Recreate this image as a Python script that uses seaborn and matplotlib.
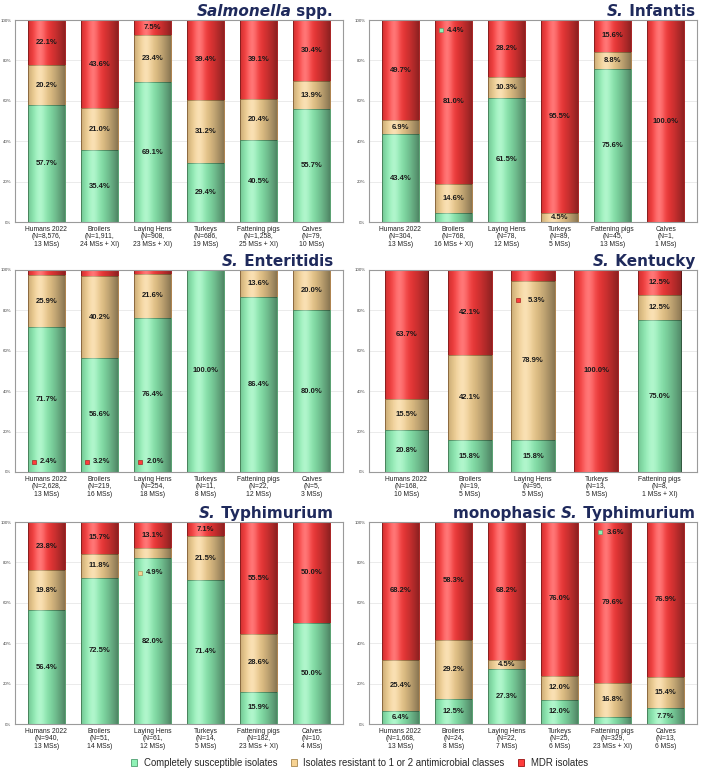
import numpy as np
import matplotlib
matplotlib.use("Agg")
import matplotlib.pyplot as plt
import seaborn as sns
from matplotlib.patches import Patch
from matplotlib.offsetbox import TextArea, HPacker, AnchoredOffsetbox

# ---------------- data (percent of isolates) ----------------
spp_cats = ["Humans 2022\n(N=8,576,\n13 MSs)", "Broilers\n(N=1,911,\n24 MSs + XI)",
            "Laying Hens\n(N=908,\n23 MSs + XI)", "Turkeys\n(N=686,\n19 MSs)",
            "Fattening pigs\n(N=1,258,\n25 MSs + XI)", "Calves\n(N=79,\n10 MSs)"]
spp_green = [57.7, 35.4, 69.1, 29.4, 40.5, 55.7]
spp_orange = [20.2, 21.0, 23.4, 31.2, 20.4, 13.9]
spp_red = [22.1, 43.6, 7.5, 39.4, 39.1, 30.4]

inf_cats = ["Humans 2022\n(N=304,\n13 MSs)", "Broilers\n(N=768,\n16 MSs + XI)",
            "Laying Hens\n(N=78,\n12 MSs)", "Turkeys\n(N=89,\n5 MSs)",
            "Fattening pigs\n(N=45,\n13 MSs)", "Calves\n(N=1,\n1 MSs)"]
inf_green = [43.4, 4.4, 61.5, 0.0, 75.6, 0.0]
inf_orange = [6.9, 14.6, 10.3, 4.5, 8.8, 0.0]
inf_red = [49.7, 81.0, 28.2, 95.5, 15.6, 100.0]

ent_cats = ["Humans 2022\n(N=2,628,\n13 MSs)", "Broilers\n(N=219,\n16 MSs)",
            "Laying Hens\n(N=254,\n18 MSs)", "Turkeys\n(N=11,\n8 MSs)",
            "Fattening pigs\n(N=22,\n12 MSs)", "Calves\n(N=5,\n3 MSs)"]
ent_green = [71.7, 56.6, 76.4, 100.0, 86.4, 80.0]
ent_orange = [25.9, 40.2, 21.6, 0.0, 13.6, 20.0]
ent_red = [2.4, 3.2, 2.0, 0.0, 0.0, 0.0]

ken_cats = ["Humans 2022\n(N=168,\n10 MSs)", "Broilers\n(N=19,\n5 MSs)",
            "Laying Hens\n(N=95,\n5 MSs)", "Turkeys\n(N=13,\n5 MSs)",
            "Fattening pigs\n(N=8,\n1 MSs + XI)"]
ken_green = [20.8, 15.8, 15.8, 0.0, 75.0]
ken_orange = [15.5, 42.1, 78.9, 0.0, 12.5]
ken_red = [63.7, 42.1, 5.3, 100.0, 12.5]

typ_cats = ["Humans 2022\n(N=940,\n13 MSs)", "Broilers\n(N=51,\n14 MSs)",
            "Laying Hens\n(N=61,\n12 MSs)", "Turkeys\n(N=14,\n5 MSs)",
            "Fattening pigs\n(N=182,\n23 MSs + XI)", "Calves\n(N=10,\n4 MSs)"]
typ_green = [56.4, 72.5, 82.0, 71.4, 15.9, 50.0]
typ_orange = [19.8, 11.8, 4.9, 21.5, 28.6, 0.0]
typ_red = [23.8, 15.7, 13.1, 7.1, 55.5, 50.0]

mon_cats = ["Humans 2022\n(N=1,668,\n13 MSs)", "Broilers\n(N=24,\n8 MSs)",
            "Laying Hens\n(N=22,\n7 MSs)", "Turkeys\n(N=25,\n6 MSs)",
            "Fattening pigs\n(N=329,\n23 MSs + XI)", "Calves\n(N=13,\n6 MSs)"]
mon_green = [6.4, 12.5, 27.3, 12.0, 3.6, 7.7]
mon_orange = [25.4, 29.2, 4.5, 12.0, 16.8, 15.4]
mon_red = [68.2, 58.3, 68.2, 76.0, 79.6, 76.9]

# small segments labelled away from the segment: (bar index, class, label height)
inf_callouts = [(1, "green", 95)]
ent_callouts = [(0, "red", 5), (1, "red", 5), (2, "red", 5)]
ken_callouts = [(2, "red", 85)]
typ_callouts = [(2, "orange", 75)]
mon_callouts = [(4, "green", 95)]

legend_labels = ["Completely susceptible isolates",
                 "Isolates resistant to 1 or 2 antimicrobial classes",
                 "MDR isolates"]

# ---------------- styling ----------------
sns.set_style("white")
plt.rcParams["font.family"] = ["Liberation Sans", "DejaVu Sans"]

COLORS = {"green": "#8ff2b6", "orange": "#f7d393", "red": "#ff3c3c"}
EDGES = {"green": "#4f9e70", "orange": "#a8864e", "red": "#9a1010"}
NAVY = "#1f2a5c"
BAR_W = 0.69

panels = [
    ([("Salmonella", True), (" spp.", False)], spp_cats, spp_green, spp_orange, spp_red, []),
    ([("S.", True), (" Infantis", False)], inf_cats, inf_green, inf_orange, inf_red, inf_callouts),
    ([("S.", True), (" Enteritidis", False)], ent_cats, ent_green, ent_orange, ent_red, ent_callouts),
    ([("S.", True), (" Kentucky", False)], ken_cats, ken_green, ken_orange, ken_red, ken_callouts),
    ([("S.", True), (" Typhimurium", False)], typ_cats, typ_green, typ_orange, typ_red, typ_callouts),
    ([("monophasic ", False), ("S.", True), (" Typhimurium", False)], mon_cats, mon_green, mon_orange, mon_red, mon_callouts),
]

fig = plt.figure(figsize=(7.09, 7.72), dpi=100)
W, H = 709, 772
col_left = [15, 369]
row_top = [20, 270, 522]
ax_w, ax_h = 328, 202
title_inset = [10, 2]

# cylinder shading overlay
t = np.linspace(0, 1, 200)
d = t - 0.33
dark = np.where(d < 0, 0.20 * (d / 0.33) ** 2, 0.45 * (d / 0.67) ** 1.5)
light = 0.30 * np.exp(-(d / 0.16) ** 2)
dark_img = np.zeros((1, t.size, 4))
dark_img[..., 3] = dark
light_img = np.ones((1, t.size, 4))
light_img[..., 3] = light

for i, (title, cats, g, o, r, callouts) in enumerate(panels):
    col, row = i % 2, i // 2
    ax = fig.add_axes([col_left[col] / W, 1 - (row_top[row] + ax_h) / H, ax_w / W, ax_h / H])
    g = np.array(g)
    o = np.array(o)
    r = np.array(r)
    total = g + o + r
    n = len(cats)

    ax.yaxis.grid(True, color="#e8e8e8", lw=0.6, zorder=0)
    ax.set_axisbelow(True)

    # stacked bars painted back to front
    sns.barplot(x=cats, y=total, color=COLORS["red"], width=BAR_W, errorbar=None,
                saturation=1, edgecolor=EDGES["red"], linewidth=0.6, ax=ax, zorder=1)
    sns.barplot(x=cats, y=g + o, color=COLORS["orange"], width=BAR_W, errorbar=None,
                saturation=1, edgecolor=EDGES["orange"], linewidth=0.6, ax=ax, zorder=1.1)
    sns.barplot(x=cats, y=g, color=COLORS["green"], width=BAR_W, errorbar=None,
                saturation=1, edgecolor=EDGES["green"], linewidth=0.6, ax=ax, zorder=1.2)

    for k in range(n):
        ext = (k - BAR_W / 2, k + BAR_W / 2, 0, total[k])
        ax.imshow(light_img, extent=ext, aspect="auto", interpolation="bilinear", zorder=2)
        ax.imshow(dark_img, extent=ext, aspect="auto", interpolation="bilinear", zorder=2.1)

    call_set = {(c[0], c[1]) for c in callouts}
    segs = {"green": (np.zeros(n), g), "orange": (g, o), "red": (g + o, r)}
    for cls, (base, vals) in segs.items():
        for k in range(n):
            if vals[k] <= 0 or (k, cls) in call_set:
                continue
            ax.text(k, base[k] + vals[k] / 2, f"{vals[k]:.1f}%", ha="center", va="center",
                    fontsize=5.5, fontweight="bold", color="#1a1a1a", zorder=4)
    for k, cls, ypos in callouts:
        val = segs[cls][1][k]
        ax.plot(k - 0.23, ypos, marker="s", ms=3.3, mfc=COLORS[cls], mec=EDGES[cls], mew=0.4, zorder=4)
        ax.text(k + 0.05, ypos, f"{val:.1f}%", ha="center", va="center",
                fontsize=5.5, fontweight="bold", color="#1a1a1a", zorder=4)

    ax.set_xlim(-0.59, n - 0.41)
    ax.set_ylim(0, 100)
    ax.set_yticks(range(0, 101, 20))
    ax.set_yticklabels([f"{v}%" for v in range(0, 101, 20)])
    ax.tick_params(axis="y", labelsize=3.2, labelcolor="#444444", length=1.5, width=0.4, pad=1)
    ax.tick_params(axis="x", labelsize=4.9, labelcolor="#222222", length=0, pad=3)
    for lab in ax.get_xticklabels():
        lab.set_linespacing(1.05)
    ax.set_xlabel("")
    ax.set_ylabel("")
    for sp in ax.spines.values():
        sp.set_color("#9a9a9a")
        sp.set_linewidth(0.8)

    parts = [TextArea(txt, textprops=dict(fontsize=11, fontweight="bold", color=NAVY,
                                          fontstyle="italic" if it else "normal",
                                          family="DejaVu Sans"))
             for txt, it in title]
    box = HPacker(children=parts, align="baseline", pad=0, sep=0)
    anchored = AnchoredOffsetbox(loc="lower right", child=box, pad=0, borderpad=0, frameon=False,
                                 bbox_to_anchor=(1 - title_inset[col] / ax_w, 1.006),
                                 bbox_transform=ax.transAxes)
    ax.add_artist(anchored)

handles = [Patch(facecolor=COLORS[c], edgecolor=EDGES[c], linewidth=0.6) for c in ["green", "orange", "red"]]
fig.legend(handles, legend_labels, loc="center", bbox_to_anchor=(0.507, 1 - 763 / H), ncol=3,
           frameon=False, fontsize=6.9, handlelength=0.65, handleheight=0.65,
           columnspacing=1.4, handletextpad=0.7)

fig.savefig("out.png", dpi=100)
